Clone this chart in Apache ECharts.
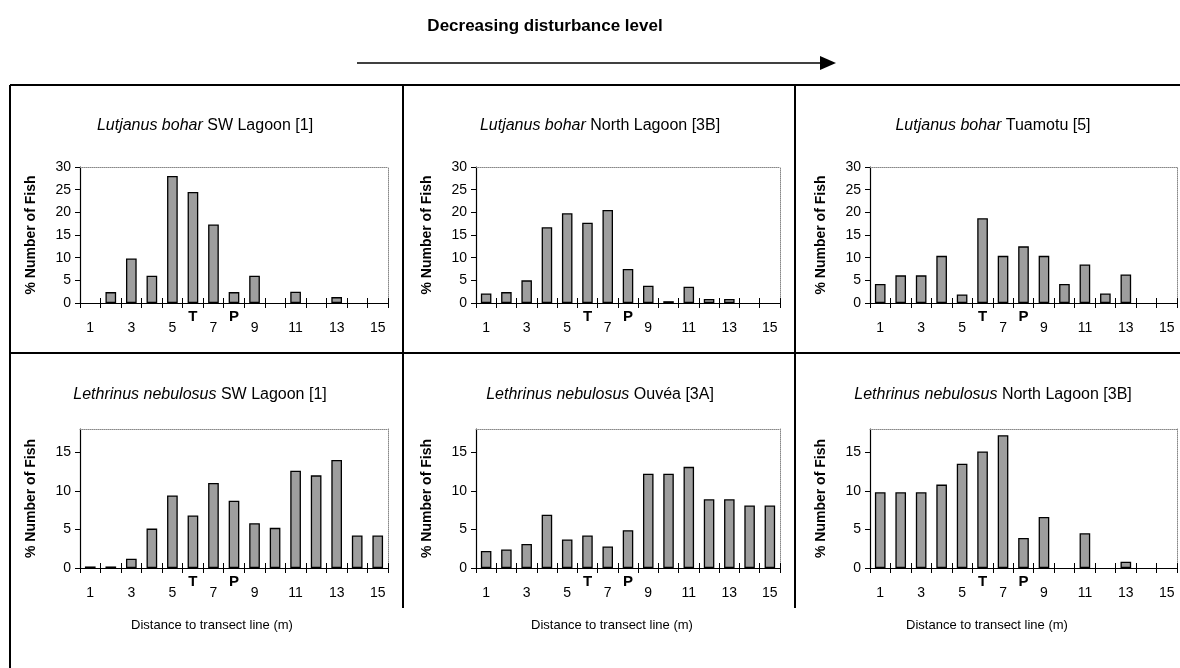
<!DOCTYPE html>
<html>
<head>
<meta charset="utf-8">
<script src="https://cdn.jsdelivr.net/npm/echarts@6/dist/echarts.min.js"></script>
<style>
  html, body { margin: 0; padding: 0; background: #fff; }
  #chart { width: 1180px; height: 668px; }
</style>
</head>
<body>
<div id="chart"></div>
<script>
// distance classes (m) and the T / P markers under the axis
var distances = ['1', '2', '3', '4', '5', '6', '7', '8', '9', '10', '11', '12', '13', '14', '15'];
var markerLabels = ['', '', '', '', '', 'T', '', 'P', '', '', '', '', '', '', ''];

// % number of fish per distance class
var bohar_SW = [0, 2.4, 9.8, 6.0, 28.0, 24.5, 17.3, 2.4, 6.0, 0, 2.5, 0, 1.3, 0, 0];
var bohar_North = [2.1, 2.4, 5.0, 16.7, 19.8, 17.7, 20.5, 7.5, 3.8, 0.4, 3.6, 0.9, 0.9, 0, 0];
var bohar_Tuamotu = [4.2, 6.1, 6.1, 10.4, 1.9, 18.7, 10.4, 12.5, 10.4, 4.2, 8.5, 2.1, 6.3, 0, 0];
var nebulosus_SW = [0.2, 0.2, 1.2, 5.1, 9.4, 6.8, 11.0, 8.7, 5.8, 5.2, 12.6, 12.0, 14.0, 4.2, 4.2];
var nebulosus_Ouvea = [2.2, 2.4, 3.1, 6.9, 3.7, 4.2, 2.8, 4.9, 12.2, 12.2, 13.1, 8.9, 8.9, 8.1, 8.1];
var nebulosus_North = [9.8, 9.8, 9.8, 10.8, 13.5, 15.1, 17.2, 3.9, 6.6, 0, 4.5, 0, 0.8, 0, 0];

var topTicks = [0, 5, 10, 15, 20, 25, 30];
var bottomTicks = [0, 5, 10, 15];

var panels = [
  {species: 'Lutjanus bohar', site: 'SW Lagoon [1]', values: bohar_SW, max: 30, ticks: topTicks},
  {species: 'Lutjanus bohar', site: 'North Lagoon [3B]', values: bohar_North, max: 30, ticks: topTicks},
  {species: 'Lutjanus bohar', site: 'Tuamotu [5]', values: bohar_Tuamotu, max: 30, ticks: topTicks},
  {species: 'Lethrinus nebulosus', site: 'SW Lagoon [1]', values: nebulosus_SW, max: 18, ticks: bottomTicks},
  {species: 'Lethrinus nebulosus', site: 'Ouvéa [3A]', values: nebulosus_Ouvea, max: 18, ticks: bottomTicks},
  {species: 'Lethrinus nebulosus', site: 'North Lagoon [3B]', values: nebulosus_North, max: 18, ticks: bottomTicks}
];

// layout
var colLeft = [80, 476, 870];
var colWidth = [308, 304, 307];
var rowTop = [167, 429];
var rowHeight = [136, 139];
var titleCenter = [205, 600, 993, 200, 600, 993];
var titleY = [113, 382];
var xNameCenter = [212, 612, 987];
var font = '"Liberation Sans", Arial, sans-serif';

var chart = echarts.init(document.getElementById('chart'));

var grids = [], xAxes = [], yAxes = [], series = [], titles = [];

panels.forEach(function (p, i) {
  var col = i % 3, row = Math.floor(i / 3);
  var left = colLeft[col], w = colWidth[col];
  grids.push({left: left, top: rowTop[row], width: w, height: rowHeight[row]});

  // main category axis: numbers, ticks pointing down
  xAxes.push({
    type: 'category', gridIndex: i, data: distances, position: 'bottom',
    axisLine: {lineStyle: {color: '#000', width: 1.2}},
    axisTick: {show: true, interval: 0, length: 5, lineStyle: {color: '#000'}},
    axisLabel: {interval: 1, margin: 18, color: '#000', fontSize: 14, fontFamily: font}
  });
  // T / P markers, ticks pointing up
  xAxes.push({
    type: 'category', gridIndex: i, data: distances, position: 'bottom',
    axisLine: {show: false},
    axisTick: {show: true, inside: true, interval: 0, length: 5, lineStyle: {color: '#000'}},
    axisLabel: {
      interval: 0, margin: 6, color: '#000', fontSize: 15, fontWeight: 'bold', fontFamily: font,
      formatter: function (v, idx) { return markerLabels[idx]; }
    }
  });
  // dotted frame on top
  xAxes.push({
    type: 'category', gridIndex: i, data: distances, position: 'top',
    axisLine: {lineStyle: {color: '#888', type: 'dotted', width: 1}},
    axisTick: {show: false}, axisLabel: {show: false}
  });

  yAxes.push({
    type: 'value', gridIndex: i, min: 0, max: p.max, position: 'left',
    splitLine: {show: false},
    axisLine: {show: true, lineStyle: {color: '#000', width: 1.2}},
    axisTick: {show: true, length: 5, customValues: p.ticks, lineStyle: {color: '#000'}},
    axisLabel: {customValues: p.ticks, margin: 9, color: '#000', fontSize: 14, fontFamily: font},
    name: '% Number of Fish', nameLocation: 'middle', nameRotate: 90, nameGap: 42,
    nameTextStyle: {color: '#000', fontSize: 14, fontWeight: 'bold', fontFamily: font}
  });
  yAxes.push({
    type: 'value', gridIndex: i, min: 0, max: p.max, position: 'right',
    splitLine: {show: false},
    axisLine: {show: true, lineStyle: {color: '#888', type: 'dotted', width: 1}},
    axisTick: {show: false}, axisLabel: {show: false}
  });

  series.push({
    type: 'bar', xAxisIndex: i * 3, yAxisIndex: i * 2,
    // empty classes draw no bar
    data: p.values.map(function (v) { return v === 0 ? null : v; }),
    barWidth: '52%',
    itemStyle: {color: '#9e9e9e', borderColor: '#000', borderWidth: 1.3},
    silent: true
  });

  titles.push({
    text: '{i|' + p.species + '} ' + p.site,
    left: titleCenter[i] - 5, top: titleY[row], textAlign: 'center',
    textStyle: {
      color: '#000', fontSize: 16, fontWeight: 'normal', fontFamily: font,
      rich: {i: {fontStyle: 'italic', fontSize: 16, fontFamily: font, color: '#000'}}
    }
  });
});

xNameCenter.forEach(function (c) {
  titles.push({
    text: 'Distance to transect line (m)', left: c - 5, top: 614, textAlign: 'center',
    textStyle: {color: '#000', fontSize: 13, fontWeight: 'normal', fontFamily: font}
  });
});

titles.push({
  text: 'Decreasing disturbance level', left: 540, top: 13, textAlign: 'center',
  textStyle: {color: '#000', fontSize: 17, fontWeight: 'bold', fontFamily: font}
});

// frame and arrow
var frame = [
  [10, 85, 1180, 85], [10, 353, 1180, 353], [10, 85, 10, 668],
  [403, 85, 403, 608], [795, 85, 795, 608]
];
var graphics = frame.map(function (l) {
  return {type: 'line', shape: {x1: l[0], y1: l[1], x2: l[2], y2: l[3]}, style: {stroke: '#000', lineWidth: 2}};
});
graphics.push({type: 'line', shape: {x1: 357, y1: 63, x2: 822, y2: 63}, style: {stroke: '#000', lineWidth: 1.5}});
graphics.push({type: 'polygon', shape: {points: [[820, 56], [836, 63], [820, 70]]}, style: {fill: '#000'}});

chart.setOption({
  animation: false,
  title: titles,
  grid: grids,
  xAxis: xAxes,
  yAxis: yAxes,
  series: series,
  graphic: graphics
});
</script>
</body>
</html>
